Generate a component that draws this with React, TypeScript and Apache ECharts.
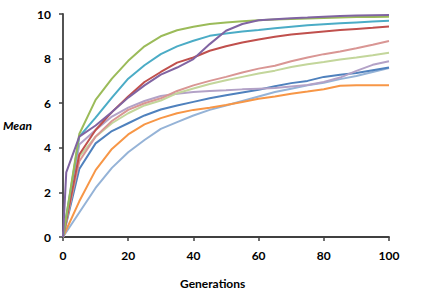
import React, { useEffect, useRef } from "react";
import * as echarts from "echarts";

const generations = [0, 1, 5, 10, 15, 20, 25, 30, 35, 40, 45, 50, 55, 60, 65, 70, 75, 80, 85, 90, 95, 100];
const xTicks = [0, 20, 40, 60, 80, 100];
const yTicks = [0, 2, 4, 6, 8, 10];

const blueS = [0, null, 3.05, 4.2, 4.75, 5.1, 5.45, 5.72, 5.9, 6.06, 6.22, 6.36, 6.48, 6.6, 6.76, 6.9, 7.0, 7.18, 7.28, 7.35, 7.48, 7.6];
const redS = [0, null, 3.7, 4.8, 5.6, 6.3, 6.95, 7.4, 7.82, 8.05, 8.35, 8.55, 8.72, 8.86, 8.98, 9.08, 9.15, 9.22, 9.28, 9.33, 9.38, 9.44];
const greenS = [0, null, 4.62, 6.15, 7.1, 7.9, 8.55, 9.0, 9.27, 9.43, 9.55, 9.62, 9.67, 9.72, 9.75, 9.78, 9.8, 9.82, 9.84, 9.86, 9.87, 9.88];
const purpleS = [0, 2.9, 4.5, 5.0, 5.6, 6.25, 6.8, 7.28, 7.6, 7.98, 8.65, 9.25, 9.55, 9.72, 9.77, 9.81, 9.84, 9.88, 9.91, 9.93, 9.94, 9.95];
const aquaS = [0, null, 4.5, 5.35, 6.25, 7.1, 7.7, 8.2, 8.55, 8.8, 9.02, 9.13, 9.22, 9.28, 9.36, 9.43, 9.5, 9.54, 9.58, 9.62, 9.66, 9.7];
const orangeS = [0, null, 1.6, 3.0, 3.95, 4.6, 5.05, 5.33, 5.55, 5.7, 5.8, 5.92, 6.05, 6.2, 6.3, 6.42, 6.52, 6.63, 6.78, 6.8, 6.81, 6.81];
const lightBlueS = [0, null, 1.1, 2.2, 3.1, 3.8, 4.35, 4.85, 5.15, 5.45, 5.7, 5.9, 6.1, 6.3, 6.5, 6.65, 6.8, 6.92, 7.08, 7.22, 7.4, 7.58];
const pinkS = [0, null, 3.4, 4.5, 5.2, 5.7, 6.0, 6.22, 6.55, 6.8, 7.0, 7.18, 7.38, 7.55, 7.68, 7.88, 8.05, 8.2, 8.32, 8.46, 8.62, 8.79];
const lightGreenS = [0, null, 3.6, 4.5, 5.1, 5.55, 5.9, 6.12, 6.45, 6.66, 6.86, 7.03, 7.18, 7.33, 7.46, 7.62, 7.75, 7.85, 7.96, 8.05, 8.15, 8.26];
const lightPurpleS = [0, null, 4.15, 4.8, 5.4, 5.8, 6.1, 6.32, 6.42, 6.5, 6.55, 6.58, 6.62, 6.65, 6.68, 6.75, 6.82, 6.95, 7.15, 7.45, 7.72, 7.88];

const seriesList: { name: string; color: string; values: (number | null)[] }[] = [
  { name: "Light blue", color: "#95B3D7", values: lightBlueS },
  { name: "Orange", color: "#F79646", values: orangeS },
  { name: "Blue", color: "#4F81BD", values: blueS },
  { name: "Light purple", color: "#B3A2C7", values: lightPurpleS },
  { name: "Light green", color: "#C3D69B", values: lightGreenS },
  { name: "Pink", color: "#D99694", values: pinkS },
  { name: "Red", color: "#C0504D", values: redS },
  { name: "Aqua", color: "#4BACC6", values: aquaS },
  { name: "Green", color: "#9BBB59", values: greenS },
  { name: "Purple", color: "#8064A2", values: purpleS },
];

const FONT = "Lato, 'Open Sans', sans-serif";

export default function App() {
  const ref = useRef<HTMLDivElement>(null);
  useEffect(() => {
    if (!ref.current) return;
    const chart = echarts.init(ref.current, null, { renderer: "svg" });
    const axisLine = { show: true, lineStyle: { color: "#404040", width: 1.8 } };
    chart.setOption({
      animation: false,
      backgroundColor: "#ffffff",
      grid: { left: 63, right: 33, top: 14, bottom: 63 },
      xAxis: {
        type: "value",
        min: xTicks[0],
        max: xTicks[xTicks.length - 1],
        interval: 20,
        axisLine,
        axisTick: { show: true, inside: false, length: 4, lineStyle: { color: "#404040", width: 1.5 } },
        splitLine: { show: false },
        axisLabel: { color: "#000", fontFamily: FONT, fontWeight: "bold", fontSize: 12, margin: 12 },
      },
      yAxis: {
        type: "value",
        min: yTicks[0],
        max: yTicks[yTicks.length - 1],
        interval: 2,
        axisLine,
        axisTick: { show: true, inside: false, length: 4, lineStyle: { color: "#404040", width: 1.5 } },
        splitLine: { show: false },
        axisLabel: { color: "#000", fontFamily: FONT, fontWeight: "bold", fontSize: 12, margin: 12 },
      },
      graphic: [
        {
          type: "text",
          left: 3,
          top: 119,
          style: { text: "Mean", font: `italic bold 12px ${FONT}`, fill: "#000" },
        },
        {
          type: "text",
          left: 180,
          top: 277,
          style: { text: "Generations", font: `bold 12px ${FONT}`, fill: "#000" },
        },
      ],
      series: seriesList.map((s) => ({
        name: s.name,
        type: "line",
        showSymbol: false,
        symbol: "none",
        connectNulls: true,
        lineStyle: { color: s.color, width: 2 },
        itemStyle: { color: s.color },
        data: generations.map((g, i) => [g, s.values[i]]),
      })),
    });
    return () => chart.dispose();
  }, []);
  return <div ref={ref} style={{ position: "absolute", left: 0, top: 0, width: 422, height: 300 }} />;
}
